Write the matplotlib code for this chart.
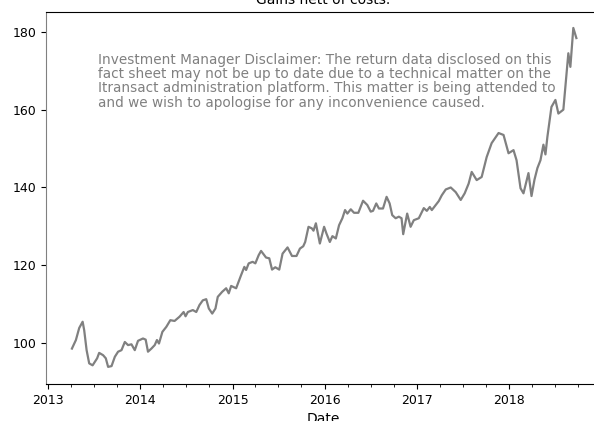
import matplotlib
matplotlib.use("Agg")
import matplotlib.pyplot as plt
import matplotlib.dates as mdates
import numpy as np
import pandas as pd

# dates as decimal years
date_years = [
    2013.259, 2013.302, 2013.338, 2013.375, 2013.392, 2013.418, 2013.446, 2013.483,
    2013.508, 2013.532, 2013.554, 2013.597, 2013.626, 2013.651, 2013.688, 2013.724,
    2013.759, 2013.796, 2013.832, 2013.867, 2013.904, 2013.940, 2013.975, 2014.029,
    2014.058, 2014.083, 2014.120, 2014.156, 2014.180, 2014.202, 2014.239, 2014.282,
    2014.325, 2014.371, 2014.425, 2014.469, 2014.490, 2014.515, 2014.569, 2014.606,
    2014.641, 2014.677, 2014.714, 2014.742, 2014.779, 2014.814, 2014.839, 2014.887,
    2014.930, 2014.958, 2014.984, 2015.038, 2015.092, 2015.127, 2015.146, 2015.174,
    2015.217, 2015.246, 2015.282, 2015.308, 2015.362, 2015.397, 2015.427, 2015.462,
    2015.505, 2015.541, 2015.595, 2015.643, 2015.692, 2015.729, 2015.765, 2015.786,
    2015.822, 2015.858, 2015.876, 2015.902, 2015.945, 2015.991, 2016.016, 2016.053,
    2016.081, 2016.118, 2016.153, 2016.189, 2016.218, 2016.243, 2016.280, 2016.315,
    2016.362, 2016.413, 2016.459, 2016.496, 2016.521, 2016.556, 2016.585, 2016.629,
    2016.668, 2016.701, 2016.729, 2016.766, 2016.801, 2016.830, 2016.848, 2016.891,
    2016.928, 2016.963, 2017.017, 2017.071, 2017.104, 2017.136, 2017.158, 2017.201,
    2017.233, 2017.266, 2017.309, 2017.363, 2017.417, 2017.471, 2017.514, 2017.557,
    2017.590, 2017.644, 2017.698, 2017.752, 2017.806, 2017.881, 2017.935, 2017.989,
    2018.043, 2018.076, 2018.119, 2018.151, 2018.205, 2018.238, 2018.270, 2018.302,
    2018.335, 2018.367, 2018.389, 2018.410, 2018.454, 2018.497, 2018.529, 2018.583,
    2018.637, 2018.659, 2018.691, 2018.724,
]
gains = [
    98.6, 100.8, 103.9, 105.5, 103.3, 98.2, 94.8, 94.3,
    95.2, 96.1, 97.5, 96.9, 96.1, 93.9, 94.1, 96.5,
    97.8, 98.2, 100.3, 99.5, 99.7, 98.2, 100.6, 101.2,
    100.9, 97.8, 98.6, 99.5, 100.8, 99.9, 102.9, 104.2,
    105.9, 105.7, 106.8, 108.0, 106.9, 108.0, 108.5, 108.0,
    109.8, 111.0, 111.3, 108.9, 107.6, 108.9, 111.9, 113.2,
    114.1, 112.8, 114.7, 114.1, 117.5, 119.6, 118.8, 120.5,
    120.9, 120.5, 122.6, 123.7, 122.0, 121.8, 118.9, 119.5,
    118.9, 123.0, 124.6, 122.4, 122.4, 124.3, 124.9, 126.0,
    129.9, 129.5, 128.9, 130.8, 125.6, 129.9, 128.2, 126.0,
    127.5, 126.9, 130.3, 132.1, 134.2, 133.3, 134.4, 133.5,
    133.5, 136.6, 135.5, 133.8, 134.0, 135.9, 134.6, 134.6,
    137.6, 135.9, 132.9, 132.1, 132.5, 132.1, 128.0, 133.3,
    129.9, 131.6, 132.1, 134.7, 134.0, 135.0, 134.2, 135.5,
    136.5, 138.0, 139.5, 140.0, 138.8, 136.8, 138.5, 141.0,
    144.0, 141.9, 142.7, 147.8, 151.4, 154.0, 153.5, 148.8,
    149.6, 147.0, 139.8, 138.5, 143.7, 137.8, 142.0, 145.0,
    147.0, 151.0, 148.5, 153.0, 160.7, 162.5, 159.0, 160.0,
    174.5, 171.0, 181.0, 178.4,
]

disclaimer = ("Investment Manager Disclaimer: The return data disclosed on this\n"
              "fact sheet may not be up to date due to a technical matter on the\n"
              "Itransact administration platform. This matter is being attended to\n"
              "and we wish to apologise for any inconvenience caused.")

yrs = np.array(date_years)
dates = pd.to_datetime("2013-01-01") + pd.to_timedelta((yrs - 2013) * 365.25, unit="D")

fig = plt.figure(figsize=(5.94, 4.21), dpi=100)
# axes runs a bit past the right edge, like the cropped original
ax = fig.add_axes([46 / 594, 37 / 421, (600 - 46) / 594, (384 - 12) / 421])

ax.plot(dates, gains, color="gray", linewidth=1.6)

x0 = pd.to_datetime("2013-01-01") - pd.to_timedelta(8, unit="D")
x1 = pd.to_datetime("2013-01-01") + pd.to_timedelta(5.98 * 365.25, unit="D")
ax.set_xlim(x0, x1)
ax.set_ylim(89.5, 185.1)
ax.set_yticks([100, 120, 140, 160, 180])

ax.xaxis.set_major_locator(mdates.YearLocator())
ax.xaxis.set_major_formatter(mdates.DateFormatter("%Y"))
ax.xaxis.set_minor_locator(mdates.MonthLocator(bymonth=[1, 4, 7, 10]))
ax.tick_params(labelsize=9)

ax.spines["left"].set_color("gray")
ax.spines["right"].set_visible(False)

ax.set_title("Gains nett of costs.", fontsize=10)
ax.set_xlabel("Date", fontsize=10)

ax.text(0.094, 0.89, disclaimer, transform=ax.transAxes, color="gray",
        fontsize=9.8, va="top", ha="left", linespacing=1.02)

fig.savefig("out.png", dpi=100)
